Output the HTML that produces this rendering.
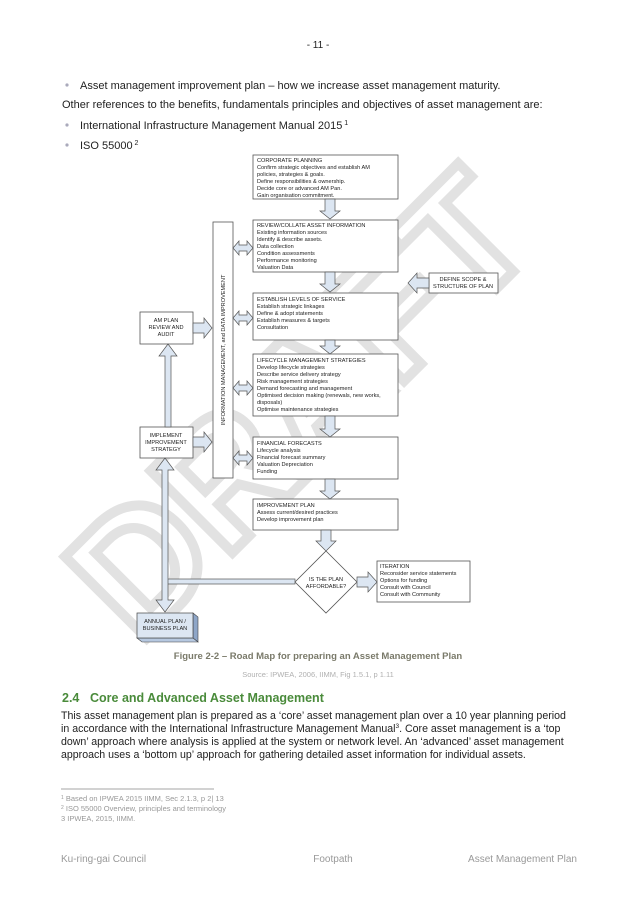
<!DOCTYPE html>
<html><head><meta charset="utf-8"><style>
html,body{margin:0;padding:0;background:#fff;}
svg{display:block;font-family:"Liberation Sans",Arial,sans-serif;}
.b{fill:#fff;stroke:#555;stroke-width:0.8;}
.a{fill:#dce6f2;stroke:#555;stroke-width:0.7;}
.t{font-size:5.6px;fill:#222;}
.c{font-size:5.6px;fill:#222;text-anchor:middle;}
</style></head><body>
<svg width="637" height="901" viewBox="0 0 637 901" xmlns="http://www.w3.org/2000/svg">
<rect width="637" height="901" fill="#fff"/>
<text x="318" y="48" font-size="10" text-anchor="middle" fill="#222">- 11 -</text>
<circle cx="67" cy="85" r="1.6" fill="#aab"/>
<text x="80" y="89" font-size="11" fill="#222">Asset management improvement plan – how we increase asset management maturity.</text>
<text x="62" y="108" font-size="11" fill="#222">Other references to the benefits, fundamentals principles and objectives of asset management are:</text>
<circle cx="67" cy="125" r="1.6" fill="#aab"/>
<text x="80" y="129" font-size="11" fill="#222">International Infrastructure Management Manual 2015<tspan font-size="7" dy="-4"> 1</tspan></text>
<circle cx="67" cy="145" r="1.6" fill="#aab"/>
<text x="80" y="149" font-size="11" fill="#222">ISO 55000<tspan font-size="7" dy="-4"> 2</tspan></text>

<!-- watermark -->
<text x="0" y="0" font-size="168" font-weight="bold" fill="none" stroke="#e2e2e2" stroke-width="10" text-anchor="middle" transform="translate(340,445) rotate(-45)">DRAFT</text>

<!-- main boxes -->
<rect class="b" x="253" y="155" width="145" height="44"/>
<text class="t" x="257" y="162">CORPORATE PLANNING</text>
<text class="t" x="257" y="169">Confirm strategic objectives and establish AM</text>
<text class="t" x="257" y="176">policies, strategies &amp; goals.</text>
<text class="t" x="257" y="183">Define responsibilities &amp; ownership.</text>
<text class="t" x="257" y="190">Decide core or advanced AM Pan.</text>
<text class="t" x="257" y="197">Gain organisation commitment.</text>

<rect class="b" x="253" y="220" width="145" height="52"/>
<text class="t" x="257" y="227">REVIEW/COLLATE ASSET INFORMATION</text>
<text class="t" x="257" y="234">Existing information sources</text>
<text class="t" x="257" y="241">Identify &amp; describe assets.</text>
<text class="t" x="257" y="248">Data collection</text>
<text class="t" x="257" y="255">Condition assessments</text>
<text class="t" x="257" y="262">Performance monitoring</text>
<text class="t" x="257" y="269">Valuation Data</text>

<rect class="b" x="253" y="293" width="145" height="47"/>
<text class="t" x="257" y="301">ESTABLISH LEVELS OF SERVICE</text>
<text class="t" x="257" y="308">Establish strategic linkages</text>
<text class="t" x="257" y="315">Define &amp; adopt statements</text>
<text class="t" x="257" y="322">Establish measures &amp; targets</text>
<text class="t" x="257" y="329">Consultation</text>

<rect class="b" x="253" y="354" width="145" height="62"/>
<text class="t" x="257" y="362">LIFECYCLE MANAGEMENT STRATEGIES</text>
<text class="t" x="257" y="369">Develop lifecycle strategies</text>
<text class="t" x="257" y="376">Describe service delivery strategy</text>
<text class="t" x="257" y="383">Risk management strategies</text>
<text class="t" x="257" y="390">Demand forecasting and management</text>
<text class="t" x="257" y="397">Optimised decision making (renewals, new works,</text>
<text class="t" x="257" y="404">disposals)</text>
<text class="t" x="257" y="411">Optimise maintenance strategies</text>

<rect class="b" x="253" y="437" width="145" height="42"/>
<text class="t" x="257" y="445">FINANCIAL FORECASTS</text>
<text class="t" x="257" y="452">Lifecycle analysis</text>
<text class="t" x="257" y="459">Financial forecast summary</text>
<text class="t" x="257" y="466">Valuation Depreciation</text>
<text class="t" x="257" y="473">Funding</text>

<rect class="b" x="253" y="499" width="145" height="31"/>
<text class="t" x="257" y="507">IMPROVEMENT PLAN</text>
<text class="t" x="257" y="514">Assess current/desired practices</text>
<text class="t" x="257" y="521">Develop improvement plan</text>

<polygon class="b" points="326,551 357,582 326,613 295,582"/>
<text class="c" x="326" y="581">IS THE PLAN</text>
<text class="c" x="326" y="588">AFFORDABLE?</text>

<rect class="b" x="377" y="561" width="93" height="41"/>
<text class="t" x="380" y="568">ITERATION</text>
<text class="t" x="380" y="575">Reconsider service statements</text>
<text class="t" x="380" y="582">Options for funding</text>
<text class="t" x="380" y="589">Consult with Council</text>
<text class="t" x="380" y="596">Consult with Community</text>

<rect class="b" x="429" y="273" width="69" height="20"/>
<text class="c" x="463" y="281">DEFINE SCOPE &amp;</text>
<text class="c" x="463" y="288">STRUCTURE OF PLAN</text>

<rect class="b" x="213" y="222" width="20" height="256"/>
<text font-size="5.6" fill="#222" text-anchor="middle" transform="translate(225,350) rotate(-90)">INFORMATION MANAGEMENT, and DATA IMPROVEMENT</text>

<rect class="b" x="140" y="312" width="53" height="32"/>
<text class="c" x="166" y="322">AM PLAN</text>
<text class="c" x="166" y="329">REVIEW AND</text>
<text class="c" x="166" y="336">AUDIT</text>

<rect class="b" x="140" y="427" width="53" height="31"/>
<text class="c" x="166" y="437">IMPLEMENT</text>
<text class="c" x="166" y="444">IMPROVEMENT</text>
<text class="c" x="166" y="451">STRATEGY</text>

<!-- annual plan 3D -->
<polygon points="193,613 198,617 198,642 193,638" fill="#8ea6c8" stroke="#444" stroke-width="0.6"/>
<polygon points="137,638 193,638 198,642 142,642" fill="#b6c8e0" stroke="#444" stroke-width="0.6"/>
<rect x="137" y="613" width="56" height="25" fill="#dce6f2" stroke="#444" stroke-width="0.7"/>
<text class="c" x="165" y="623">ANNUAL PLAN /</text>
<text class="c" x="165" y="630">BUSINESS PLAN</text>

<!-- down arrows -->
<polygon class="a" points="325,199 335,199 335,211 340,211 330,219 320,211 325,211"/>
<polygon class="a" points="325,272 335,272 335,284 340,284 330,292 320,284 325,284"/>
<polygon class="a" points="325,340 335,340 335,346 340,346 330,354 320,346 325,346"/>
<polygon class="a" points="325,416 335,416 335,429 340,429 330,437 320,429 325,429"/>
<polygon class="a" points="325,479 335,479 335,491 340,491 330,499 320,491 325,491"/>
<polygon class="a" points="321,530 331,530 331,541 336,541 326,551 316,541 321,541"/>

<!-- double arrows -->
<polygon class="a" points="233,248 239,241 239,245 247,245 247,241 253,248 247,255 247,251 239,251 239,255"/>
<polygon class="a" points="233,318 239,311 239,315 247,315 247,311 253,318 247,325 247,321 239,321 239,325"/>
<polygon class="a" points="233,388 239,381 239,385 247,385 247,381 253,388 247,395 247,391 239,391 239,395"/>
<polygon class="a" points="233,458 239,451 239,455 247,455 247,451 253,458 247,465 247,461 239,461 239,465"/>

<!-- right arrows to bar -->
<polygon class="a" points="193,323 204,323 204,318 212,328 204,338 204,333 193,333"/>
<polygon class="a" points="193,437 204,437 204,432 212,442 204,452 204,447 193,447"/>
<!-- define scope left arrow -->
<polygon class="a" points="429,278 417,278 417,273 408,283 417,293 417,288 429,288"/>
<!-- diamond to iteration -->
<polygon class="a" points="357,577 368,577 368,572 377,582 368,592 368,587 357,587"/>

<!-- up arrow implement->AM -->
<polygon class="a" points="165,427 171,427 171,356 177,356 168,344 159,356 165,356"/>
<!-- horizontal bar to diamond -->
<rect class="a" x="166" y="579" width="129" height="5"/>
<!-- vertical double arrow -->
<polygon class="a" points="165,458 174,470 168,470 168,600 174,600 165,612 156,600 162,600 162,470 156,470"/>

<text x="318" y="659" font-size="9.5" font-weight="bold" fill="#7a7a6a" text-anchor="middle">Figure 2-2 – Road Map for preparing an Asset Management Plan</text>
<text x="318" y="677" font-size="7.5" fill="#b0b0b0" text-anchor="middle">Source: IPWEA, 2006, IIMM, Fig 1.5.1, p 1.11</text>

<text x="62" y="702" font-size="12.5" font-weight="bold" fill="#4a8b3b">2.4</text>
<text x="90" y="702" font-size="12.5" font-weight="bold" fill="#4a8b3b">Core and Advanced Asset Management</text>
<g font-size="10.6" fill="#222">
<text x="61" y="719">This asset management plan is prepared as a ‘core’ asset management plan over a 10 year planning period</text>
<text x="61" y="732">in accordance with the International Infrastructure Management Manual<tspan font-size="6.5" dy="-4">3</tspan><tspan dy="4">.  Core asset management is a ‘top</tspan></text>
<text x="61" y="745">down’ approach where analysis is applied at the system or network level. An ‘advanced’ asset management</text>
<text x="61" y="758">approach uses a ‘bottom up’ approach for gathering detailed asset information for individual assets.</text>
</g>
<line x1="61" y1="789" x2="214" y2="789" stroke="#888" stroke-width="0.8"/>
<g font-size="7.5" fill="#999">
<text x="61" y="801"><tspan font-size="5" dy="-2">1</tspan><tspan dy="2"> Based on IPWEA 2015 IIMM, Sec 2.1.3, p 2| 13</tspan></text>
<text x="61" y="811"><tspan font-size="5" dy="-2">2</tspan><tspan dy="2"> ISO 55000 Overview, principles and terminology</tspan></text>
<text x="61" y="821">3 IPWEA, 2015, IIMM.</text>
</g>
<g font-size="10" fill="#999">
<text x="61" y="862">Ku-ring-gai Council</text>
<text x="333" y="862" text-anchor="middle">Footpath</text>
<text x="577" y="862" text-anchor="end">Asset Management Plan</text>
</g>
</svg>
</body></html>
